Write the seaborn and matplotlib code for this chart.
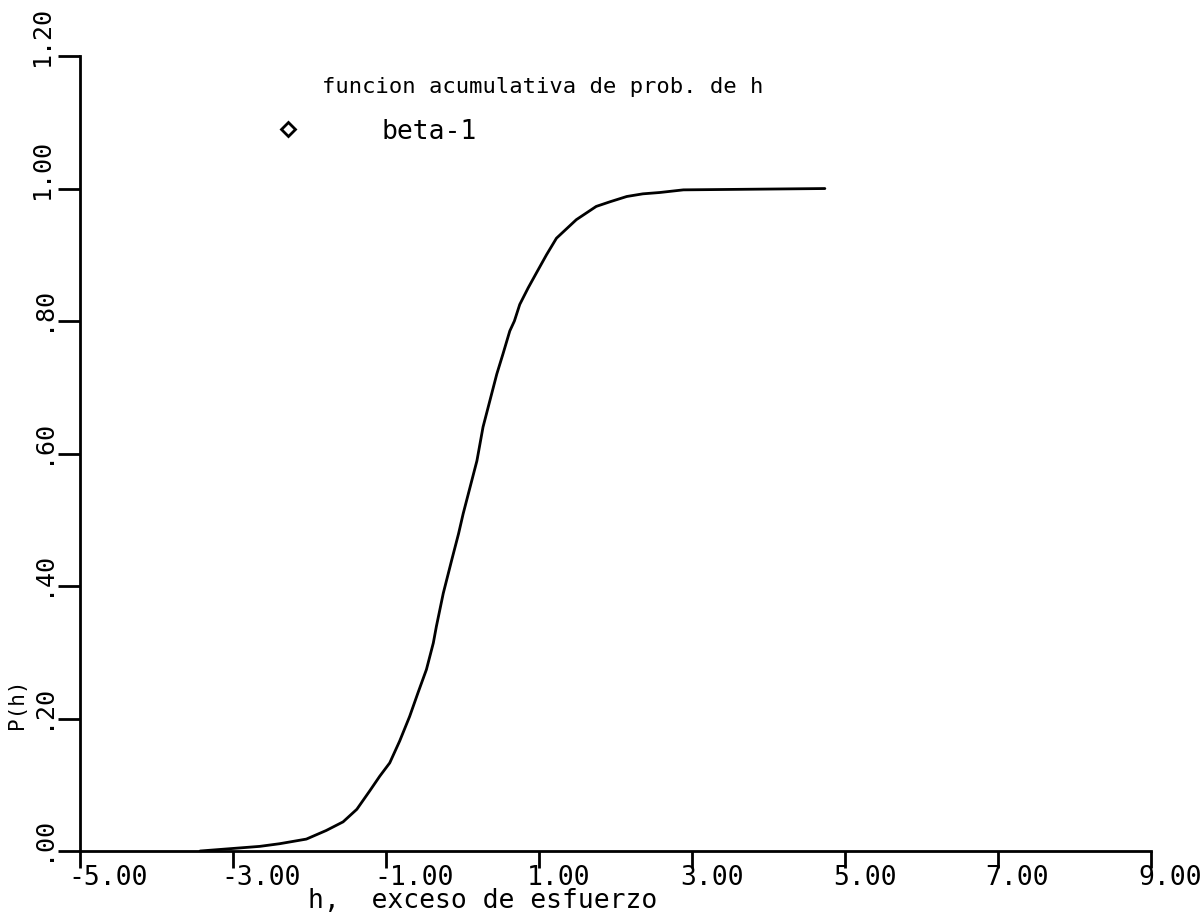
#!/usr/bin/env python3
# coding: utf-8

import matplotlib

matplotlib.use("Agg")
import matplotlib.transforms as mtransforms
from matplotlib import pyplot as plt
from matplotlib.lines import Line2D
import pandas as pd
import seaborn as sns

# curve
h = [-3.43, -2.65, -2.39, -2.04, -1.78, -1.56, -1.38, -1.21, -1.08, -0.95,
     -0.82, -0.69, -0.58, -0.47, -0.38, -0.34, -0.25, -0.14, -0.05, 0.01,
     0.10, 0.19, 0.27, 0.36, 0.45, 0.53, 0.62, 0.68, 0.75, 0.86, 0.97,
     1.10, 1.23, 1.36, 1.49, 1.62, 1.75, 1.93, 2.15, 2.36, 2.58, 2.89,
     4.74]
p_h = [0.0, 0.007, 0.011, 0.018, 0.031, 0.044, 0.063, 0.091, 0.113, 0.133,
       0.166, 0.203, 0.239, 0.274, 0.314, 0.339, 0.389, 0.439, 0.479, 0.509,
       0.549, 0.589, 0.640, 0.680, 0.720, 0.750, 0.785, 0.800, 0.825, 0.850,
       0.873, 0.900, 0.925, 0.939, 0.953, 0.963, 0.973, 0.980, 0.988, 0.992,
       0.994, 0.998, 1.0]

x_ticks = [-5, -3, -1, 1, 3, 5, 7, 9]
x_labels = ["-5.00", "-3.00", "-1.00", "1.00", "3.00", "5.00", "7.00", "9.00"]
y_ticks = [0.0, 0.2, 0.4, 0.6, 0.8, 1.0, 1.2]
y_labels = [".00", ".20", ".40", ".60", ".80", "1.00", "1.20"]

TITLE = "funcion acumulativa de prob. de h"
SERIES = "beta-1"
XLABEL = "h,  exceso de esfuerzo"
YLABEL = "P(h)"

sns.set_theme(style="ticks")
plt.rcParams["font.family"] = ["DejaVu Sans Mono", "DejaVu Sans"]
plt.rcParams["text.color"] = "black"

df = pd.DataFrame({"h": h, "P": p_h})

fig = plt.figure(figsize=(12.03, 9.2), dpi=100)
fig.patch.set_facecolor("white")
ax = fig.add_axes([0.0665, 0.0739, 0.890, 0.8641])
ax.set_facecolor("white")

sns.lineplot(data=df, x="h", y="P", ax=ax, color="black", linewidth=2.0,
             legend=False)

ax.set_xlim(-5, 9)
ax.set_ylim(0, 1.2)
for side in ("top", "right"):
    ax.spines[side].set_visible(False)
for side in ("left", "bottom"):
    ax.spines[side].set_linewidth(2.0)
    ax.spines[side].set_color("black")

ax.set_xticks(x_ticks, x_labels, fontsize=19)
ax.set_yticks(y_ticks, y_labels, fontsize=18, rotation=90)
ax.tick_params(axis="x", direction="out", length=12, width=2, pad=-3,
               colors="black")
ax.tick_params(axis="y", direction="out", length=16, width=2, pad=3,
               colors="black")

# plotter style label placement
for lab in ax.get_xticklabels():
    lab.set_ha("left")
    lab.set_transform(lab.get_transform() + mtransforms.ScaledTranslation(
        -12 / 100, 0, fig.dpi_scale_trans))
for lab in ax.get_yticklabels():
    lab.set_va("bottom")
    lab.set_transform(lab.get_transform() + mtransforms.ScaledTranslation(
        0, -9 / 100, fig.dpi_scale_trans))

ax.set_xlabel("")
ax.set_ylabel("")
ax.text(0.376, -0.070, XLABEL, transform=ax.transAxes, ha="center",
        va="baseline", fontsize=19, color="black")
ax.text(-0.059, 0.187, YLABEL, transform=ax.transAxes, ha="center",
        va="center", fontsize=15, rotation=90, color="black")
ax.text(0.432, 0.962, TITLE, transform=ax.transAxes, ha="center",
        va="center", fontsize=16, color="black")

handle = Line2D([], [], linestyle="none", marker="D", markersize=7,
                markerfacecolor="white", markeredgecolor="black",
                markeredgewidth=2)
leg = ax.legend([handle], [SERIES], loc="center left",
                bbox_to_anchor=(0.1694, 0.906), frameon=False, fontsize=19,
                handletextpad=2.56, borderpad=0, borderaxespad=0)
for t in leg.get_texts():
    t.set_color("black")

fig.savefig("out.png", dpi=100)
